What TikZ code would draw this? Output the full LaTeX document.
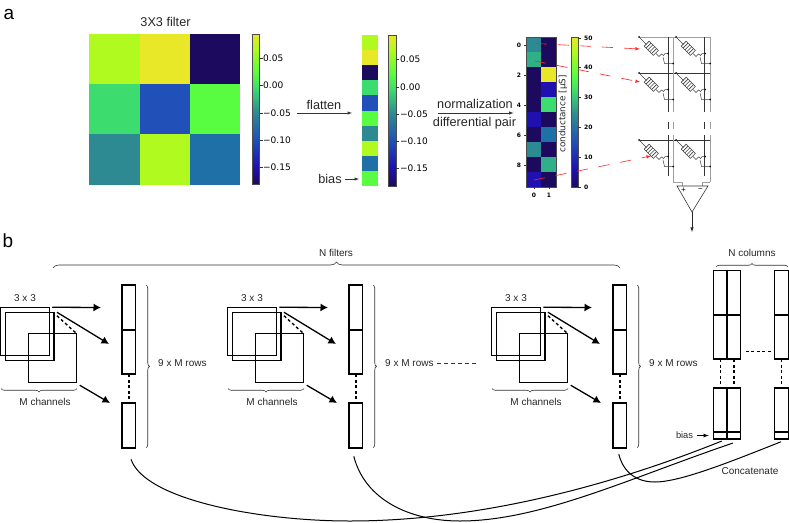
\documentclass[tikz,border=0pt]{standalone}
\usepackage{fontspec}
\setmainfont{Liberation Sans}
\newfontfamily\plotfont{DejaVu Sans}
\usetikzlibrary{positioning,arrows.meta,decorations.pathreplacing}
\tikzset{>=latex}

% colours of the lookup table
\definecolor{cnavy}{HTML}{1B0A5E}
\definecolor{cviolet}{HTML}{2010B0}
\definecolor{cblue}{HTML}{2050B8}
\definecolor{csteel}{HTML}{2070A8}
\definecolor{cteal}{HTML}{2D8A92}
\definecolor{cjade}{HTML}{30B088}
\definecolor{cgreen}{HTML}{3DDC6E}
\definecolor{cmint}{HTML}{58FC40}
\definecolor{clime}{HTML}{B0FA20}
\definecolor{cyellow}{HTML}{E8E828}
\pgfdeclareverticalshading{lutbar}{100bp}{color(0bp)=(cnavy); color(25bp)=(cnavy); color(31bp)=(cviolet); color(40bp)=(cblue); color(49bp)=(cteal); color(57bp)=(cgreen); color(62bp)=(cmint); color(70bp)=(clime); color(75bp)=(cyellow); color(100bp)=(cyellow)}

\tikzset{
  txta/.style={inner sep=0pt, text=black!85, font=\fontsize{12.7}{15}\selectfont},
  txtb/.style={inner sep=0pt, text=black!85, font=\fontsize{10}{12}\selectfont},
  tickl/.style={inner sep=0pt, anchor=west, font=\plotfont\fontsize{9}{11}\selectfont},
  ticks/.style={inner sep=0pt, font=\plotfont\bfseries\fontsize{6}{8}\selectfont},
  cbar/.style={draw=black!70, line width=.7pt, shading=lutbar},
  barbox/.style={draw, line width=1.4pt, minimum width=13.5pt, inner sep=0pt, outer sep=0pt},
  sqbox/.style={draw, line width=1.4pt, minimum size=48.5pt, inner sep=0pt, outer sep=0pt},
  bigarrow/.style={-{Latex[length=7.5pt,width=8pt]}, line width=1.3pt},
  dashbar/.style={line width=1.4pt, dash pattern=on 3pt off 2.5pt},
  brc/.style={decorate, decoration={brace,amplitude=#1}, line width=.6pt, black!80},
  redlink/.style={->, red!85!white, line width=.6pt, dash pattern=on 11pt off 11pt},
  gline/.style={gray!75, line width=1pt},
  dline/.style={black!80, line width=.7pt},
  memcell/.pic={
    \fill[black] (0,0) circle (1);
    \fill[black] (29,16.5) circle (1);
    \fill[black] (34,26.5) circle (1);
    \draw[black!75, line width=.5pt] (0,0) -- (7.5,7.5);
    \begin{scope}[rotate around={-45:(12.3,11.3)}, black!75, line width=.6pt]
      \draw (5.8,7.8) rectangle (18.8,14.8);
      \foreach \q in {8.4,11,13.6,16.2} \draw (\q,7.8) -- (\q,14.8);
    \end{scope}
    \draw[black!75, line width=.5pt] (17,16.5) -- (20,19.5) -- (22.5,17) -- (24.5,18.5) -- (26,16.5) -- (29,16.5);
    \draw[black!75, line width=.5pt] (24,20) -- (25.5,26.5) -- (34,26.5);
  }
}

\begin{document}
\begin{tikzpicture}[x=1pt, y=-1pt]
  \useasboundingbox (0,0) rectangle (789,522);

  \node[inner sep=0pt, font=\fontsize{19}{22}\selectfont] (la) at (9,14) {a};
  \node[inner sep=0pt, font=\fontsize{19}{22}\selectfont] (lb) at (8,241) {b};

  % 3x3 filter
  \node[txta] (ftitle) at (165.5,22) {3X3 filter};
  \foreach \i/\j/\cc in {0/0/clime,1/0/cyellow,2/0/cnavy,0/1/cgreen,1/1/cblue,2/1/cmint,0/2/cteal,1/2/clime,2/2/csteel}
    \fill[\cc] (89.3+\i*50.2,34+\j*50.2) rectangle ++(50.2,50.2);
  \shade[cbar] (252,34) rectangle (259.5,184.7);
  \foreach \v/\yy [count=\n] in {0.05/58,0.00/85,−0.05/113,−0.10/140,−0.15/167} {
    \draw[black!80, line width=.5pt] (259.5,\yy) -- ++(3,0);
    \node[tickl] (ca\n) at (263,\yy) {\v};
  }

  % flattened column
  \foreach \cc [count=\j from 0] in {clime,cyellow,cnavy,cgreen,cblue,cmint,cteal,clime,csteel,cmint}
    \fill[\cc] (362,35+\j*15.1) rectangle ++(15.5,15.1);
  \shade[cbar] (388.5,35) rectangle (396,186);
  \foreach \v/\yy [count=\n] in {0.05/59,0.00/87,−0.05/114,−0.10/141,−0.15/168} {
    \draw[black!80, line width=.5pt] (396,\yy) -- ++(3,0);
    \node[tickl] (cb\n) at (400,\yy) {\v};
  }

  \node[txta] (tflat) at (324,105) {flatten};
  \coordinate (fl0) at (297,113);
  \coordinate (fl1) at (352,113);
  \draw[->, black!80, line width=.5pt] (fl0) -- (fl1);
  \node[txta] (tbias) at (330,179) {bias};
  \coordinate (bi1) at (359,179);
  \draw[->, black!80, line width=.5pt] (tbias) ++(15,0) -- (bi1);

  \node[txta] (tnorm) at (475,104) {normalization};
  \node[txta] (tdiff) at (474.5,123) {differential pair};
  \coordinate (no0) at (438,113);
  \coordinate (no1) at (513.5,113);
  \draw[->, black!80, line width=.5pt] (no0) -- (no1);

  % conductance map
  \foreach \r/\cl/\cr in {0/cteal/cnavy,1/cjade/cnavy,2/cnavy/cyellow,3/cnavy/cviolet,4/cnavy/cgreen,5/cviolet/cnavy,6/cnavy/csteel,7/cteal/cnavy,8/cnavy/cjade,9/cviolet/cnavy} {
    \fill[\cl] (526,37+\r*15) rectangle ++(15,15);
    \fill[\cr] (541,37+\r*15) rectangle ++(15,15);
  }
  \draw[black!70, line width=.6pt] (526,37) rectangle (556,187);
  \foreach \v/\yy [count=\n] in {0/45,2/75,4/105,6/135,8/165} {
    \draw[black!80, line width=.4pt] (526,\yy) -- ++(-2,0);
    \node[ticks] (cy\n) at (519,\yy) {\v};
  }
  \foreach \v/\xx [count=\n] in {0/534,1/549} {
    \draw[black!80, line width=.4pt] (\xx,187) -- ++(0,2);
    \node[ticks] (cx\n) at (\xx,195) {\v};
  }
  \shade[cbar] (571,37) rectangle (578,187);
  \foreach \v/\yy [count=\n] in {50/38,40/67,30/97,20/127,10/157,0/187} {
    \draw[black!80, line width=.4pt] (578,\yy) -- ++(2.5,0);
    \node[ticks, anchor=west] (cc\n) at (584,\yy) {\v};
  }
  \node[inner sep=0pt, rotate=90, text=black!85, font=\plotfont\fontsize{8.8}{10}\selectfont] (tcond) at (563,114) {conductance [μS]};

  % crossbar
  \draw[gline] (639,37) -- (710,37);
  \draw[dline] (639,73) -- (710,73);
  \draw[dline] (639,140) -- (710,140);
  \foreach \xx in {668,704} {
    \draw[dline] (\xx,37) -- (\xx,112);
    \draw[dline] (\xx,122) -- (\xx,129);
    \draw[dline] (\xx,135) -- (\xx,176);
  }
  \foreach \xx in {673,710} {
    \draw[gline] (\xx,37) -- (\xx,112);
    \draw[gline] (\xx,122) -- (\xx,129);
    \draw[gline] (\xx,135) -- (\xx,182);
  }
  \foreach \yy in {37,73,140} {
    \pic at (639,\yy) {memcell};
    \pic at (676,\yy) {memcell};
  }
  \draw[gline] (673,182) -- (682,182) -- (682,186);
  \draw[gline] (710,182) -- (702,182) -- (702,186);
  \coordinate (apl) at (677,186);
  \coordinate (apr) at (708,186);
  \coordinate (apx) at (692,212);
  \coordinate (apo) at (692,232);
  \draw[black!80, line width=.6pt] (apl) -- (apr) -- (apx) -- cycle;
  \draw[->, black!85, line width=.6pt] (apx) -- (apo);
  \node[inner sep=0pt, font=\fontsize{8}{9}\selectfont] (aplus) at (683.5,190.5) {+};
  \node[inner sep=0pt, font=\fontsize{8}{9}\selectfont] (aminus) at (700.5,190.5) {−};

  % red links from the map to the cells
  \coordinate (ra0) at (536,43.5);
  \coordinate (ra1) at (640,49);
  \coordinate (rb0) at (535,61);
  \coordinate (rb1) at (640,82);
  \coordinate (rc0) at (534,180);
  \coordinate (rc1) at (651,156);
  \draw[redlink] (ra0) -- (ra1);
  \draw[redlink] (rb0) -- (rb1);
  \draw[redlink] (rc0) -- (rc1);

  % N filters
  \draw[brc=6pt] (53,268) -- (620,268);
  \node[txtb] (tnf) at (336,253) {N filters};
  \foreach \g/\off in {1/0,2/227,3/491} {
    \begin{scope}[shift={(\off,0)}]
      \node[sqbox] (s\g a) at (25,331.5) {};
      \node[sqbox] (s\g b) at (29.7,336.5) {};
      \node[sqbox] (s\g c) at (52.5,358) {};
      \node[txtb] (t\g a) at (25,298) {3 x 3};
      \draw[brc=3.5pt] (77,388.5) -- (1,388.5);
      \node[txtb] (t\g b) at (45,402) {M channels};
      \node[barbox, minimum height=45pt] (f\g top) at (128.8,307.5) {};
      \node[barbox, minimum height=44pt, below=0pt of f\g top] (f\g mid) {};
      \node[barbox, minimum height=45pt, below=29pt of f\g mid] (f\g low) {};
      \draw[dashbar] (f\g mid) -- (f\g low);
      \coordinate (a\g a) at (101,307.5);
      \coordinate (a\g b) at (109,344);
      \coordinate (a\g c) at (110,403);
      \draw[bigarrow] ([xshift=3pt]s\g a.north east) -- (a\g a);
      \draw[bigarrow] ([xshift=3pt]s\g b.north east) -- (a\g b);
      \draw[bigarrow] ([shift={(3,3)}]s\g c.south east) -- (a\g c);
      \draw[dashbar] ([shift={(3,3.5)}]s\g b.north east) -- (s\g c.north east);
      \draw[brc=3.5pt] (146,285) -- (146,447.7);
      \node[txtb, anchor=west] (t\g c) at (158,363) {9 x M rows};
    \end{scope}
  }
  \coordinate (dd0) at (437,363);
  \coordinate (dd1) at (478,363);
  \draw[black!80, line width=.6pt, dash pattern=on 4pt off 3pt] (dd0) -- (dd1);

  % concatenated columns
  \node[txtb] (tnc) at (752,253) {N columns};
  \draw[brc=3.5pt] (716,267) -- (788,267);
  \foreach \c/\xx in {1/720.5,2/733.9,3/781.5} {
    \node[barbox, minimum height=44.3pt] (c\c top) at (\xx,292.9) {};
    \node[barbox, minimum height=44pt, below=0pt of c\c top] (c\c mid) {};
    \node[barbox, minimum height=44pt, below=29pt of c\c mid] (c\c low) {};
    \node[barbox, minimum height=7pt, below=0pt of c\c low] (c\c bias) {};
    \draw[dashbar] (c\c mid) -- (c\c low);
  }
  \draw[dashbar] (c2mid.east) ++(5,14.7) -- ++(25,0);
  \node[txtb, left=20.5pt of c1bias, font=\fontsize{9.3}{11}\selectfont] (tbb) {bias};
  \draw[->, line width=.8pt, shorten <=3.5pt, shorten >=5pt] (tbb) -- (c1bias);
  \node[txtb] (tcat) at (750,471) {Concatenate};

  % long feeds to the bias row
  \draw[line width=1pt] ([shift={(2.2,11.3)}]f1low.south) .. controls (145,500) and (260,521) .. (350,521)
    .. controls (470,521) and (600,490) .. ([shift={(1.2,2)}]c1bias.south);
  \draw[line width=1pt] ([shift={(-2,8.3)}]f2low.south) .. controls (365,500) and (410,521) .. (460,521)
    .. controls (540,521) and (630,478) .. ([shift={(-1,4)}]c2bias.south);
  \draw[line width=1pt] ([shift={(-1,6.3)}]f3low.south) .. controls (624,474) and (638,482) .. (655,482)
    .. controls (680,482) and (730,462) .. ([shift={(-.5,2.7)}]c3bias.south);
\end{tikzpicture}
\end{document}
